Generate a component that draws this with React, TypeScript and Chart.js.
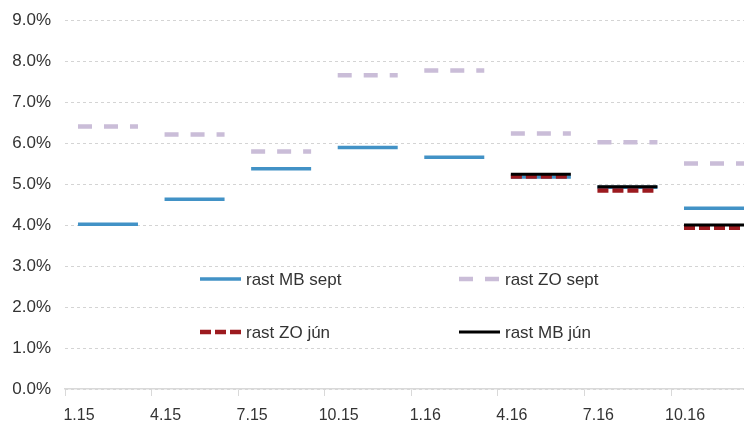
import React, { useEffect, useRef } from "react";
import { Chart, registerables } from "chart.js";

Chart.register(...registerables);

// ---- data ----
const QUARTER_LABELS = ["1.15", "4.15", "7.15", "10.15", "1.16", "4.16", "7.16", "10.16"];
const MB_SEPT = [4.02, 4.63, 5.37, 5.89, 5.65, 5.17, 4.92, 4.41];
const ZO_SEPT = [6.4, 6.21, 5.79, 7.65, 7.77, 6.23, 6.02, 5.5];
const ZO_JUN = [null, null, null, null, null, 5.18, 4.84, 3.93];
const MB_JUN = [null, null, null, null, null, 5.24, 4.93, 4.0];
const SERIES_NAMES = ["rast MB sept", "rast ZO sept", "rast ZO jún", "rast MB jún"];
const Y_MIN = 0;
const Y_MAX = 9;
const Y_STEP = 1;

// ---- layout constants ----
const SEG_START = 0.15;
const SEG_END = 0.843;
const X_MAX = 7.843;
const FONT = '"Liberation Sans", Arial, sans-serif';
const TEXT = "#333333";

function segments(values: (number | null)[]) {
  const pts: { x: number; y: number | null }[] = [];
  values.forEach((v, i) => {
    if (v == null) return;
    pts.push({ x: i + SEG_START, y: v }, { x: i + SEG_END, y: v }, { x: i + SEG_END + 0.01, y: null });
  });
  return pts;
}

const legendPlugin = {
  id: "inlineLegend",
  afterDatasetsDraw(chart: any) {
    const { ctx, chartArea } = chart;
    const items = [
      { ds: 0, dx: 135, dy: 259 },
      { ds: 1, dx: 394, dy: 259 },
      { ds: 2, dx: 135, dy: 312 },
      { ds: 3, dx: 394, dy: 312 },
    ];
    items.forEach((it) => {
      const d = chart.data.datasets[it.ds];
      const x = chartArea.left + it.dx;
      const y = chartArea.top + it.dy;
      ctx.save();
      ctx.strokeStyle = d.borderColor;
      ctx.lineWidth = d.borderWidth;
      ctx.lineCap = "butt";
      ctx.setLineDash(d.borderDash || []);
      ctx.beginPath();
      ctx.moveTo(x, y);
      ctx.lineTo(x + 41, y);
      ctx.stroke();
      ctx.setLineDash([]);
      ctx.fillStyle = TEXT;
      ctx.font = `17px ${FONT}`;
      ctx.textBaseline = "middle";
      ctx.textAlign = "left";
      ctx.fillText(d.label, x + 46, y + 1);
      ctx.restore();
    });
  },
};

export default function App() {
  const ref = useRef<HTMLCanvasElement | null>(null);
  useEffect(() => {
    if (!ref.current) return;
    const chart = new Chart(ref.current, {
      type: "line",
      data: {
        datasets: [
          {
            label: SERIES_NAMES[0],
            data: segments(MB_SEPT),
            borderColor: "#4292c6",
            borderWidth: 3.5,
            pointRadius: 0,
            order: 3,
          },
          {
            label: SERIES_NAMES[1],
            data: segments(ZO_SEPT),
            borderColor: "#cabdd8",
            borderWidth: 4.5,
            borderDash: [14, 12],
            pointRadius: 0,
            order: 2,
          },
          {
            label: SERIES_NAMES[2],
            data: segments(ZO_JUN),
            borderColor: "#9c1a1f",
            borderWidth: 4.5,
            borderDash: [11, 4],
            pointRadius: 0,
            order: 1,
          },
          {
            label: SERIES_NAMES[3],
            data: segments(MB_JUN),
            borderColor: "#000000",
            borderWidth: 3,
            pointRadius: 0,
            order: 0,
          },
        ] as any,
      },
      options: {
        animation: false,
        responsive: false,
        devicePixelRatio: 1,
        events: [],
        spanGaps: false,
        layout: { padding: { top: 20, right: 0, bottom: 0, left: 0 } },
        plugins: { legend: { display: false }, tooltip: { enabled: false } },
        scales: {
          x: {
            type: "linear",
            min: 0,
            max: X_MAX,
            afterBuildTicks: (scale: any) => {
              scale.ticks = QUARTER_LABELS.map((_, i) => ({ value: i }));
            },
            afterFit: (scale: any) => {
              scale.height = 32;
              scale.paddingLeft = 0;
              scale.paddingRight = 0;
            },
            ticks: {
              callback: (v: any) => QUARTER_LABELS[Math.round(Number(v))] ?? "",
              labelOffset: 14,
              padding: 10,
              maxRotation: 0,
              autoSkip: false,
              color: TEXT,
              font: { family: FONT, size: 16 },
            },
            grid: {
              drawOnChartArea: false,
              drawTicks: true,
              tickLength: 7,
              color: "#d9d9d9",
            },
            border: { display: true, color: "#d9d9d9", width: 1.5 },
          },
          y: {
            min: Y_MIN,
            max: Y_MAX,
            afterFit: (scale: any) => {
              scale.width = 65;
              scale.paddingTop = 0;
              scale.paddingBottom = 0;
            },
            ticks: {
              stepSize: Y_STEP,
              callback: (v: any) => Number(v).toFixed(1) + "%",
              padding: 14,
              color: TEXT,
              font: { family: FONT, size: 17 },
            },
            grid: { color: "#d4d4d4", drawTicks: false, lineWidth: 1 },
            border: { display: false, dash: [3, 3] },
          },
        },
      },
      plugins: [legendPlugin],
    });
    return () => chart.destroy();
  }, []);
  return (
    <div style={{ position: "fixed", left: 0, top: 0, width: 744, height: 421, background: "#fff" }}>
      <canvas ref={ref} width={744} height={421} style={{ display: "block" }} />
    </div>
  );
}
